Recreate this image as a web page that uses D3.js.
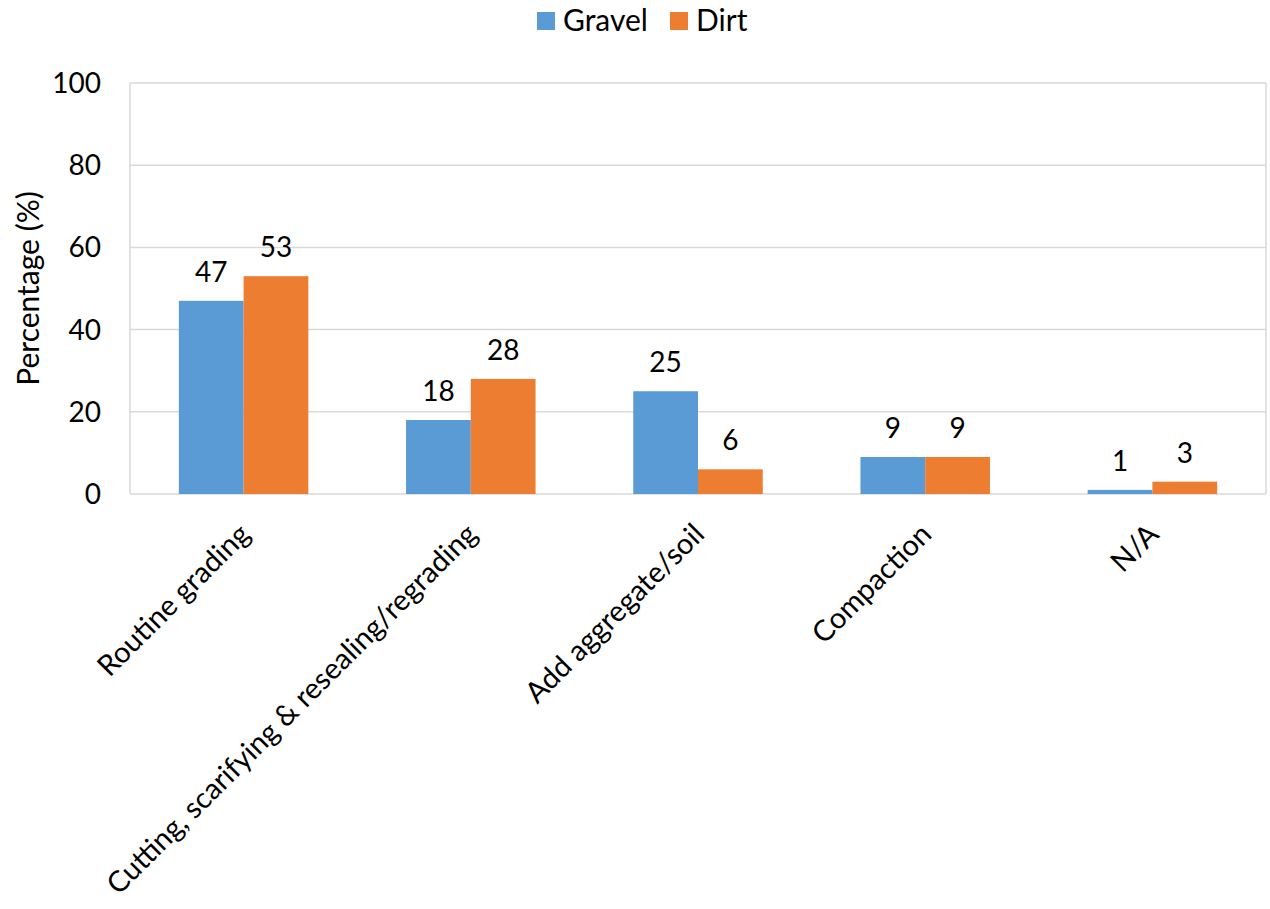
<!DOCTYPE html>
<html>
<head>
<meta charset="utf-8">
<script src="https://cdn.jsdelivr.net/npm/d3@7"></script>
<style>
  body { margin: 0; background: #fff; }
  svg text { font-family: Lato, "Open Sans", sans-serif; fill: #000; }
</style>
</head>
<body>
<svg id="chart" width="1270" height="909"></svg>
<script>
const categories = ["Routine grading", "Cutting, scarifying & resealing/regrading", "Add aggregate/soil", "Compaction", "N/A"];
const seriesNames = ["Gravel", "Dirt"];
const gravelValues = [47, 18, 25, 9, 1];
const dirtValues = [53, 28, 6, 9, 3];
const yTicks = [0, 20, 40, 60, 80, 100];
const colors = { Gravel: "#5b9bd5", Dirt: "#ed7d31" };

const width = 1270;
const height = 909;
const margin = { top: 83, right: 4, bottom: 415, left: 130 };

const svg = d3.select("#chart");

const x = d3.scaleBand()
  .domain(categories)
  .range([margin.left, width - margin.right])
  .paddingInner(0.43)
  .paddingOuter(0.215);

const x1 = d3.scaleBand()
  .domain(seriesNames)
  .range([0, x.bandwidth()]);

const y = d3.scaleLinear()
  .domain([0, 100])
  .range([height - margin.bottom, margin.top]);

// gridlines
svg.append("g")
  .selectAll("line")
  .data(yTicks)
  .join("line")
  .attr("x1", margin.left)
  .attr("x2", width - margin.right)
  .attr("y1", d => y(d))
  .attr("y2", d => y(d))
  .attr("stroke", "#d9d9d9")
  .attr("stroke-width", 1.5);

// plot frame sides
svg.append("line")
  .attr("x1", margin.left).attr("x2", margin.left)
  .attr("y1", y(100)).attr("y2", y(0))
  .attr("stroke", "#d9d9d9").attr("stroke-width", 1.5);
svg.append("line")
  .attr("x1", width - margin.right).attr("x2", width - margin.right)
  .attr("y1", y(100)).attr("y2", y(0))
  .attr("stroke", "#d9d9d9").attr("stroke-width", 1.5);

// y tick labels
svg.append("g")
  .selectAll("text")
  .data(yTicks)
  .join("text")
  .attr("x", 101)
  .attr("y", d => y(d))
  .attr("dy", "0.36em")
  .attr("text-anchor", "end")
  .style("font-size", "28px")
  .text(d => d);

// y axis title
svg.append("text")
  .attr("transform", `translate(39, ${(y(0) + y(100)) / 2}) rotate(-90)`)
  .attr("text-anchor", "middle")
  .style("font-size", "30px")
  .text("Percentage (%)");

const rows = categories.map((c, i) => ({ category: c, Gravel: gravelValues[i], Dirt: dirtValues[i] }));

const groups = svg.append("g")
  .selectAll("g")
  .data(rows)
  .join("g")
  .attr("transform", d => `translate(${x(d.category)},0)`);

const bars = groups.selectAll("g")
  .data(d => seriesNames.map(s => ({ series: s, value: d[s] })))
  .join("g");

bars.append("rect")
  .attr("x", d => x1(d.series))
  .attr("width", x1.bandwidth())
  .attr("y", d => y(d.value))
  .attr("height", d => y(0) - y(d.value))
  .attr("fill", d => colors[d.series]);

bars.append("text")
  .attr("x", d => x1(d.series) + x1.bandwidth() / 2)
  .attr("y", d => y(d.value) - 19)
  .attr("text-anchor", "middle")
  .style("font-size", "28px")
  .text(d => d.value);

// x category labels, rotated
svg.append("g")
  .selectAll("text")
  .data(categories)
  .join("text")
  .attr("transform", d => `translate(${x(d) + x.bandwidth() / 2 + 8}, ${y(0) + 42}) rotate(-45)`)
  .attr("text-anchor", "end")
  .style("font-size", "29px")
  .text(d => d);

// legend
const legend = svg.append("g").attr("transform", "translate(537, 0)");
const legendItems = [
  { label: "Gravel", dx: 0 },
  { label: "Dirt", dx: 133 }
];
const li = legend.selectAll("g")
  .data(legendItems)
  .join("g")
  .attr("transform", d => `translate(${d.dx}, 0)`);
li.append("rect")
  .attr("x", 0).attr("y", 12)
  .attr("width", 18).attr("height", 18)
  .attr("fill", d => colors[d.label]);
li.append("text")
  .attr("x", 26).attr("y", 31)
  .style("font-size", "30px")
  .text(d => d.label);
</script>
</body>
</html>
